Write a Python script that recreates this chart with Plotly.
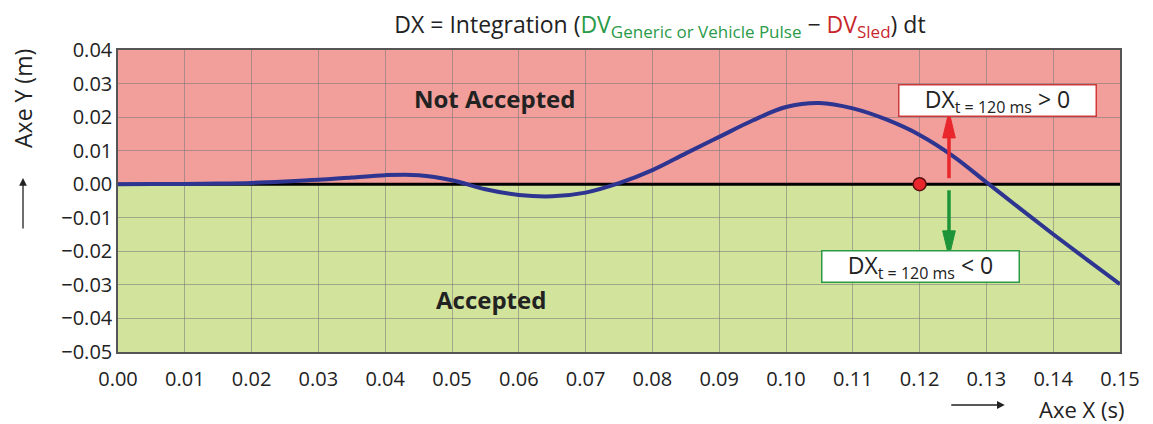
import plotly.graph_objects as go

t_s = [0, 0.005, 0.01, 0.015, 0.02, 0.025, 0.03, 0.035, 0.04, 0.045, 0.05, 0.055, 0.06, 0.065,
       0.07, 0.075, 0.08, 0.085, 0.09, 0.095, 0.10, 0.105, 0.11, 0.115, 0.12, 0.125, 0.13,
       0.135, 0.14, 0.145, 0.15]
dx_m = [0, 0.00005, 0.0001, 0.0002, 0.0004, 0.0008, 0.0013, 0.0020, 0.0027, 0.0027, 0.0012,
        -0.0015, -0.0032, -0.0036, -0.0025, 0.0003, 0.0042, 0.0092, 0.0141, 0.0190, 0.0230,
        0.0242, 0.0226, 0.0193, 0.0147, 0.0084, 0.0006, -0.0072, -0.0149, -0.0224, -0.0298]

marker_t = [0.12]
marker_v = [0.0]

x_ticks = [round(i * 0.01, 2) for i in range(16)]
y_ticks = [round(-0.05 + i * 0.01, 2) for i in range(10)]

FONT = "Open Sans"
RED_BG = "#F29E9B"
GREEN_BG = "#D2E39C"
TXT = "#222"
ARROW_RED = "#E8262B"
ARROW_GREEN = "#1E9438"

fig = go.Figure()

fig.add_trace(go.Scatter(x=t_s, y=dx_m, mode="lines",
                         line=dict(color="#2E3590", width=4, shape="spline", smoothing=1.0),
                         hoverinfo="skip", showlegend=False))
fig.add_trace(go.Scatter(x=marker_t, y=marker_v, mode="markers",
                         marker=dict(size=13, color="#E8262B", line=dict(color="#5a1010", width=1.5)),
                         showlegend=False))


def vertical_arrow(xc, y_tail, y_tip, color, head_len=0.0078, head_half=0.00095):
    """Line + long narrow arrowhead, built as shapes in data units."""
    direction = 1 if y_tip > y_tail else -1
    y_base = y_tip - direction * head_len
    return [
        dict(type="line", xref="x", yref="y", x0=xc, x1=xc, y0=y_tail, y1=y_base + direction * 0.001,
             line=dict(color=color, width=3.5), layer="above"),
        dict(type="path", xref="x", yref="y", layer="above", fillcolor=color,
             line=dict(color=color, width=1),
             path=f"M {xc - head_half:.5f},{y_base:.5f} L {xc:.5f},{y_tip:.5f} "
                  f"L {xc + head_half:.5f},{y_base:.5f} Z"),
    ]


shapes = [
    dict(type="rect", xref="x", yref="y", x0=0, x1=0.15, y0=0, y1=0.04, fillcolor=RED_BG,
         line=dict(width=0), layer="below"),
    dict(type="rect", xref="x", yref="y", x0=0, x1=0.15, y0=-0.05, y1=0, fillcolor=GREEN_BG,
         line=dict(width=0), layer="below"),
    dict(type="line", xref="x", yref="y", x0=0, x1=0.15, y0=0, y1=0,
         line=dict(color="black", width=3), layer="between"),
]
shapes += vertical_arrow(0.1244, 0.0018, 0.0216, ARROW_RED)
shapes += vertical_arrow(0.1244, -0.0018, -0.0217, ARROW_GREEN)

box_text_hi = "DX<sub><span style='font-size:16px'>t = 120 ms</span></sub> > 0"
box_text_lo = "DX<sub><span style='font-size:16px'>t = 120 ms</span></sub> < 0"

annotations = [
    dict(x=0.0563, y=0.0254, xref="x", yref="y", text="<b>Not Accepted</b>", showarrow=False,
         xanchor="center", yanchor="middle", font=dict(family=FONT, size=24, color=TXT)),
    dict(x=0.0558, y=-0.0343, xref="x", yref="y", text="<b>Accepted</b>", showarrow=False,
         xanchor="center", yanchor="middle", font=dict(family=FONT, size=24, color=TXT)),
    # boxes
    dict(x=0.1316, y=0.0251, xref="x", yref="y", text=box_text_hi, showarrow=False,
         xanchor="center", yanchor="middle", width=194, height=28,
         font=dict(family=FONT, size=23, color=TXT), bgcolor="white", bordercolor="#D0393C",
         borderwidth=1.5, borderpad=1),
    dict(x=0.1202, y=-0.0245, xref="x", yref="y", text=box_text_lo, showarrow=False,
         xanchor="center", yanchor="middle", width=194, height=28,
         font=dict(family=FONT, size=23, color=TXT), bgcolor="white", bordercolor="#2E9A47",
         borderwidth=1.5, borderpad=1),
    # axis labels
    dict(x=-0.0948, y=0.838, xref="x domain", yref="y domain", text="Axe Y (m)", textangle=-90,
         xanchor="center", yanchor="middle", showarrow=False, font=dict(family=FONT, size=23, color=TXT)),
    dict(x=-0.0948, y=0.576, ax=0, ay=52, xref="x domain", yref="y domain", axref="pixel", ayref="pixel",
         text="", showarrow=True, arrowhead=2, arrowsize=1.2, arrowwidth=1.3, arrowcolor=TXT,
         standoff=0, startstandoff=0),
    dict(x=1.006, y=-0.188, xref="x domain", yref="y domain", text="Axe X (s)", xanchor="right",
         yanchor="middle", showarrow=False, font=dict(family=FONT, size=22, color=TXT)),
    dict(x=0.885, y=-0.1755, ax=-55, ay=0, xref="x domain", yref="y domain", axref="pixel", ayref="pixel",
         text="", showarrow=True, arrowhead=2, arrowsize=1.2, arrowwidth=1.3, arrowcolor=TXT,
         standoff=0, startstandoff=0),
]

title_text = ("DX = Integration (<span style='color:#2A9A48'>DV<sub><span style='font-size:17px'>"
              "Generic or Vehicle Pulse</span></sub></span>"
              " \u2212 <span style='color:#C8272D'>DV<sub><span style='font-size:17px'>Sled</span></sub></span>) dt")

# page body has an 8px margin: figure is shrunk and margins shifted to compensate
fig.update_layout(
    width=1145, height=416,
    margin=dict(l=110, r=33, t=42, b=72, autoexpand=False),
    paper_bgcolor="white", plot_bgcolor="white",
    font=dict(family=FONT, size=20, color=TXT),
    title=dict(text=title_text, x=0.5694, xanchor="center", y=0.960, yanchor="middle",
               font=dict(family=FONT, size=23, color=TXT)),
    shapes=shapes, annotations=annotations,
    xaxis=dict(range=[0, 0.15], tickvals=x_ticks, tickformat=".2f", showgrid=True,
               gridcolor="rgba(120,120,120,0.55)", gridwidth=1, zeroline=False, automargin=False,
               showline=True, linecolor="#555", linewidth=1.5, mirror=True, ticks="", ticklen=0,
               ticklabelstandoff=8),
    yaxis=dict(range=[-0.05, 0.04], tickvals=y_ticks, tickformat=".2f", showgrid=True,
               gridcolor="rgba(120,120,120,0.55)", gridwidth=1, zeroline=False, automargin=False,
               showline=True, linecolor="#555", linewidth=1.5, mirror=True, ticks="", ticklen=0),
)

fig.write_html("out.html")
